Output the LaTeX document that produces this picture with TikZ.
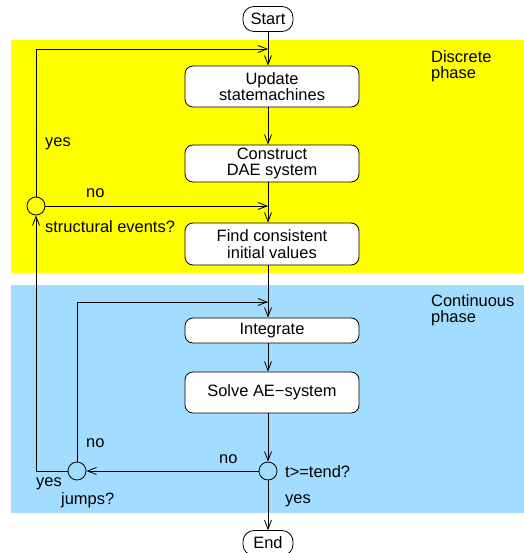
\documentclass[tikz,border=0pt]{standalone}
\usepackage{fontspec}
\setmainfont{Liberation Sans}
\usetikzlibrary{arrows.meta}
\definecolor{discr}{RGB}{255,255,0}
\definecolor{contin}{RGB}{162,220,255}
\begin{document}
\begin{tikzpicture}[x=1bp,y=-1bp,
  every node/.style={font=\fontsize{16.5}{16.5}\selectfont, inner sep=0pt},
  procbox/.style={draw, line width=0.8bp, fill=white, rounded corners=8bp, minimum width=174bp, align=center},
  termbox/.style={draw, line width=0.8bp, fill=white, rounded corners=11bp, minimum width=50bp, minimum height=25bp},
  decision/.style={draw, line width=0.8bp, circle, minimum size=18bp},
  flow/.style={line width=0.8bp, -{Straight Barb[length=9bp,width=7bp]}},
  plain/.style={line width=0.8bp},
  lbl/.style={anchor=west}
]
\useasboundingbox (0,0) rectangle (524,553);
% phases
\fill[discr] (11,40) rectangle (524,273);
\fill[contin] (11,285) rectangle (524,513);
\node[lbl, align=left] (dlab) at (431,66) {Discrete\\phase};
\node[lbl, align=left] (clab) at (431,310) {Continuous\\phase};

% nodes
\node[termbox] (start) at (268,19) {Start};
\node[procbox, minimum height=41bp] (upd) at (272,86.5) {Update\\statemachines};
\node[procbox, minimum height=37bp] (dae) at (272,163.5) {Construct\\DAE system};
\node[procbox, minimum height=42bp] (find) at (272,244) {Find consistent\\initial values};
\node[procbox, minimum height=25bp] (integ) at (272,330.5) {Integrate};
\node[procbox, minimum height=41bp] (solve) at (272,392.5) {Solve AE−system};
\node[decision] (tend) at (268,471) {};
\node[decision] (jumps) at (77,471) {};
\node[decision] (struct) at (36,206) {};
\node[termbox] (end) at (268,543) {End};

% coordinates on the main line
\coordinate (m1) at (268,49);
\coordinate (m2) at (268,206);
\coordinate (m3) at (268,302);
\coordinate (c1) at (36,49);
\coordinate (c2) at (36,471);
\coordinate (c3) at (77,302);

% main flow
\draw[plain] (start.south) -- (m1);
\draw[flow] (m1) -- (upd.north -| m1);
\draw[flow] (upd.south -| m1) -- (dae.north -| m1);
\draw[plain] (dae.south -| m1) -- (m2);
\draw[flow] (m2) -- (find.north -| m1);
\draw[plain] (find.south -| m1) -- (m3);
\draw[flow] (m3) -- (integ.north -| m1);
\draw[flow] (integ.south -| m1) -- (solve.north -| m1);
\draw[flow] (solve.south -| m1) -- (tend.north);
\draw[flow] (tend.south) -- (end.north);
\draw[flow] (tend.west) -- (jumps.east);

% loops
\draw[flow] (struct.north) -- (c1) -- (m1);
\draw[flow] (struct.east) -- (m2);
\draw[flow] (c2) -- (struct.south);
\draw[plain] (jumps.west) -- (c2);
\draw[flow] (jumps.north) -- (c3) -- (m3);

% labels
\node[lbl] (yes1) at (45,144) {yes};
\node[lbl] (no1) at (86,193) {no};
\node[lbl] (sev) at (45,227) {structural events?};
\node[lbl] (no2) at (86,443) {no};
\node[lbl] (yes2) at (36,484) {yes};
\node[lbl] (jq) at (61,500) {jumps?};
\node[lbl] (no3) at (219,459) {no};
\node[lbl] (tq) at (285,472) {t>=tend?};
\node[lbl] (yes3) at (285,501) {yes};
\end{tikzpicture}
\end{document}
